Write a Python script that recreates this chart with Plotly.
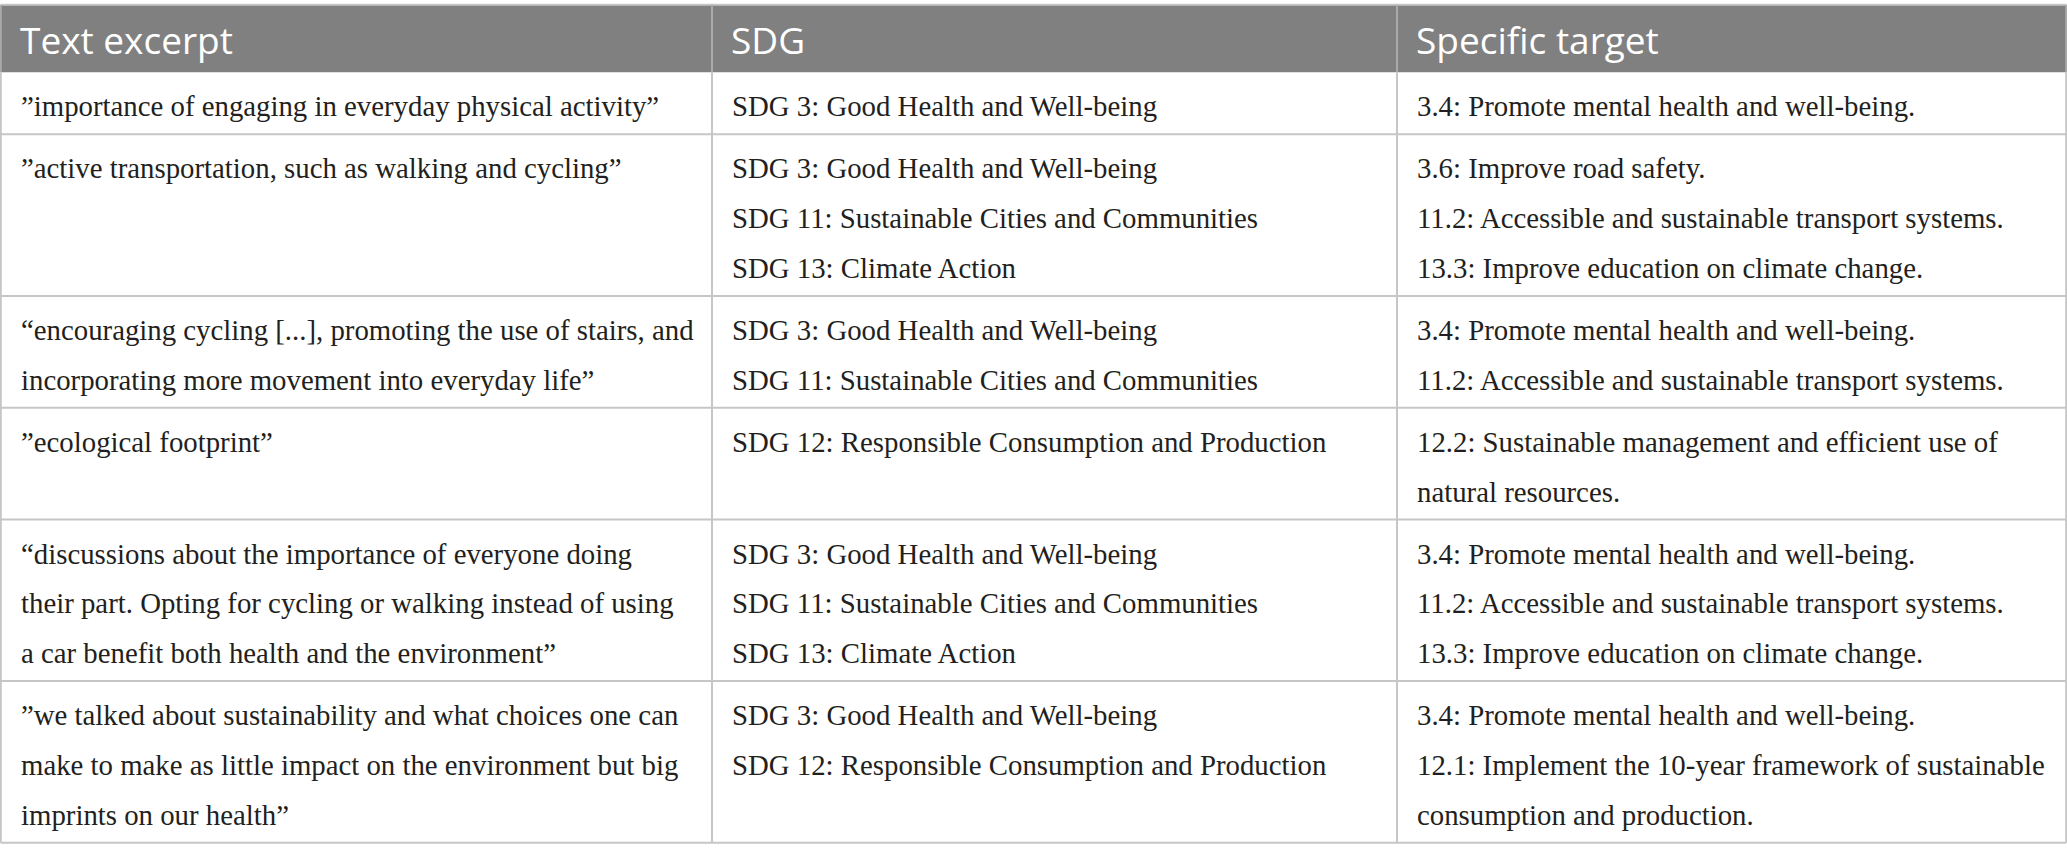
import plotly.graph_objects as go

# table content, one list of wrapped lines per cell
headers = ["Text excerpt", "SDG", "Specific target"]

excerpts = [
    ["”importance of engaging in everyday physical activity”"],
    ["”active transportation, such as walking and cycling”"],
    ["“encouraging cycling [...], promoting the use of stairs, and",
     "incorporating more movement into everyday life”"],
    ["”ecological footprint”"],
    ["“discussions about the importance of everyone doing",
     "their part. Opting for cycling or walking instead of using",
     "a car benefit both health and the environment”"],
    ["”we talked about sustainability and what choices one can",
     "make to make as little impact on the environment but big",
     "imprints on our health”"],
]

sdgs = [
    ["SDG 3: Good Health and Well-being"],
    ["SDG 3: Good Health and Well-being",
     "SDG 11: Sustainable Cities and Communities",
     "SDG 13: Climate Action"],
    ["SDG 3: Good Health and Well-being",
     "SDG 11: Sustainable Cities and Communities"],
    ["SDG 12: Responsible Consumption and Production"],
    ["SDG 3: Good Health and Well-being",
     "SDG 11: Sustainable Cities and Communities",
     "SDG 13: Climate Action"],
    ["SDG 3: Good Health and Well-being",
     "SDG 12: Responsible Consumption and Production"],
]

targets = [
    ["3.4: Promote mental health and well-being."],
    ["3.6: Improve road safety.",
     "11.2: Accessible and sustainable transport systems.",
     "13.3: Improve education on climate change."],
    ["3.4: Promote mental health and well-being.",
     "11.2: Accessible and sustainable transport systems."],
    ["12.2: Sustainable management and efficient use of",
     "natural resources."],
    ["3.4: Promote mental health and well-being.",
     "11.2: Accessible and sustainable transport systems.",
     "13.3: Improve education on climate change."],
    ["3.4: Promote mental health and well-being.",
     "12.1: Implement the 10-year framework of sustainable",
     "consumption and production."],
]

# layout of the table (pixels on a 2067 x 857 canvas)
W, H = 2067, 857
col_edges = [0.8, 712, 1397, 2066.2]
top = 4.7
header_h = 67.6
line_h = 49.8
row_pad = 12.2
cell_pad = 21
text_off = 34

HEADER_BG = "#7f807f"
HEADER_RULE = "#a9aaa9"
GRID = "#c6c6c6"
TEXT = "#231f20"

columns = [excerpts, sdgs, targets]

fig = go.Figure()
fig.add_trace(go.Scatter(x=[0, W], y=[0, H], mode="markers",
                         marker=dict(opacity=0), hoverinfo="skip", showlegend=False))

shapes = []
annotations = []

# header band
shapes.append(dict(type="rect", xref="x", yref="y", x0=col_edges[0], x1=col_edges[-1],
                   y0=top, y1=top + header_h, fillcolor=HEADER_BG, line=dict(width=0), layer="below"))
for c, name in enumerate(headers):
    annotations.append(dict(x=col_edges[c] + cell_pad - 4, y=top + header_h / 2 + 1, xref="x", yref="y",
                            text=name, showarrow=False, xanchor="left", yanchor="middle",
                            font=dict(family="Open Sans", size=37, color="white")))

# body rows
y = top + header_h
row_lines = []
for r in range(len(excerpts)):
    n = max(len(col[r]) for col in columns)
    h = n * line_h + row_pad
    for c, col in enumerate(columns):
        for i, line in enumerate(col[r]):
            annotations.append(dict(x=col_edges[c] + cell_pad - 3, y=y + text_off + i * line_h, xref="x", yref="y",
                                    text=line, showarrow=False, xanchor="left", yanchor="middle",
                                    font=dict(family="Liberation Serif", size=28.8, color=TEXT)))
    y += h
    row_lines.append(y)

bottom = y
for yl in row_lines:
    shapes.append(dict(type="line", xref="x", yref="y", x0=col_edges[0], x1=col_edges[-1],
                       y0=yl, y1=yl, line=dict(color=GRID, width=2)))
shapes.append(dict(type="line", xref="x", yref="y", x0=col_edges[0], x1=col_edges[-1],
                   y0=top, y1=top, line=dict(color=GRID, width=2)))
# vertical rules: lighter inside the header band
for xe in col_edges:
    shapes.append(dict(type="line", xref="x", yref="y", x0=xe, x1=xe, y0=top, y1=top + header_h,
                       line=dict(color=HEADER_RULE, width=2)))
    shapes.append(dict(type="line", xref="x", yref="y", x0=xe, x1=xe, y0=top + header_h, y1=bottom,
                       line=dict(color=GRID, width=2)))

fig.update_layout(
    width=W, height=H,
    margin=dict(l=0, r=0, t=0, b=0),
    paper_bgcolor="white", plot_bgcolor="white",
    xaxis=dict(range=[0, W], visible=False, fixedrange=True),
    yaxis=dict(range=[H, 0], visible=False, fixedrange=True),
    shapes=shapes, annotations=annotations,
)

fig.write_html("out.html", config={"displayModeBar": False},
               post_script="document.body.style.margin='0';")
